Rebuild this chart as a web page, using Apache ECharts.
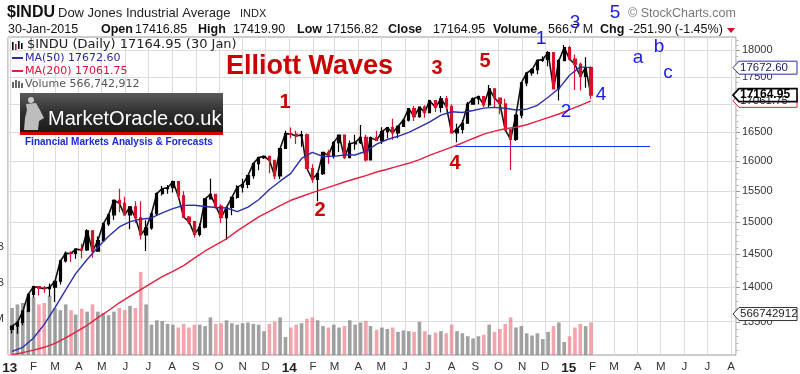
<!DOCTYPE html>
<html><head><meta charset="utf-8">
<script src="https://cdn.jsdelivr.net/npm/echarts@6/dist/echarts.min.js"></script>
<style>html,body{margin:0;padding:0;background:#fff}#c{width:800px;height:374px}</style>
</head><body><div id="c"></div>
<script>
// ---------------- DATA (weekly) ----------------
const weekDates = ['2013-01-04','2013-01-11','2013-01-18','2013-01-25','2013-02-01','2013-02-08','2013-02-15','2013-02-22','2013-03-01','2013-03-08','2013-03-15','2013-03-22','2013-03-28','2013-04-05','2013-04-12','2013-04-19','2013-04-26','2013-05-03','2013-05-10','2013-05-17','2013-05-24','2013-05-31','2013-06-07','2013-06-14','2013-06-21','2013-06-28','2013-07-05','2013-07-12','2013-07-19','2013-07-26','2013-08-02','2013-08-09','2013-08-16','2013-08-23','2013-08-30','2013-09-06','2013-09-13','2013-09-20','2013-09-27','2013-10-04','2013-10-11','2013-10-18','2013-10-25','2013-11-01','2013-11-08','2013-11-15','2013-11-22','2013-11-29','2013-12-06','2013-12-13','2013-12-20','2013-12-27','2014-01-03','2014-01-10','2014-01-17','2014-01-24','2014-01-31','2014-02-07','2014-02-14','2014-02-21','2014-02-28','2014-03-07','2014-03-14','2014-03-21','2014-03-28','2014-04-04','2014-04-11','2014-04-17','2014-04-25','2014-05-02','2014-05-09','2014-05-16','2014-05-23','2014-05-30','2014-06-06','2014-06-13','2014-06-20','2014-06-27','2014-07-03','2014-07-11','2014-07-18','2014-07-25','2014-08-01','2014-08-08','2014-08-15','2014-08-22','2014-08-29','2014-09-05','2014-09-12','2014-09-19','2014-09-26','2014-10-03','2014-10-10','2014-10-17','2014-10-24','2014-10-31','2014-11-07','2014-11-14','2014-11-21','2014-11-28','2014-12-05','2014-12-12','2014-12-19','2014-12-26','2015-01-02','2015-01-09','2015-01-16','2015-01-23','2015-01-30'];
const weekHigh = [13436,13507,13651,13896,14020,14019,14020,14055,14090,14413,14540,14546,14585,14662,14888,14865,14777,14994,15134,15368,15542,15410,15250,15340,15340,15030,15160,15480,15590,15605,15680,15660,15500,15100,15010,14980,15380,15710,15460,15290,15250,15400,15600,15710,15770,15970,16080,16100,16090,16030,16230,16530,16588,16530,16530,16480,15950,15800,16160,16200,16350,16460,16460,16360,16460,16630,16460,16430,16530,16590,16600,16740,16620,16730,16930,16970,16960,16980,17080,17070,17150,17150,17000,16650,16720,17040,17120,17160,17140,17350,17280,17120,17100,16560,16810,17400,17580,17660,17820,17890,17990,17960,17830,18103,18080,17920,17770,17870,17700];
const weekLow = [13330,13328,13448,13636,13850,13880,13920,13863,13784,14040,14375,14380,14430,14434,14550,14444,14540,14700,14940,15040,15160,15115,14891,14990,14730,14551,14880,15100,15430,15460,15480,15390,15070,14970,14760,14777,14900,15370,15220,14990,14719,15110,15380,15480,15550,15710,15850,16040,15800,15700,15700,16220,16400,16300,16250,15870,15640,15340,15770,15960,16050,16160,16040,16060,16200,16300,16000,16015,16350,16300,16400,16370,16400,16600,16690,16700,16760,16760,16840,16860,16850,16900,16490,16330,16480,16650,16990,17000,16950,16940,16940,16820,16540,15855,16350,16750,17330,17520,17550,17780,17700,17270,17070,17800,17810,17260,17250,17300,17100];
const weekClose = [13435,13488,13650,13896,14010,13993,13981,14001,14090,14397,14515,14512,14579,14565,14865,14547,14712,14974,15118,15354,15303,15116,15248,15070,14800,14910,15136,15464,15544,15559,15659,15426,15081,15010,14810,14923,15376,15452,15258,15073,15237,15400,15570,15615,15762,15962,16065,16086,16020,15755,16221,16479,16470,16437,16459,15880,15699,15794,16154,16103,16322,16453,16065,16302,16323,16413,16027,16409,16361,16513,16584,16492,16606,16717,16924,16776,16948,16851,17068,16944,17100,16961,16493,16554,16663,17001,17098,17138,16988,17280,17113,17009,16544,16380,16805,17391,17573,17635,17810,17828,17958,17281,17804,18053,17833,17737,17512,17673,17165];
const priorClose = 13390;   // level where the first visible bar opens
const weekVolumeM = [650,700,720,750,800,700,720,820,650,620,700,620,560,640,600,700,600,580,550,600,650,620,680,650,1150,700,420,480,470,430,420,380,430,380,420,420,400,520,430,440,480,440,420,440,450,430,420,330,430,460,520,250,380,420,440,500,520,480,400,380,420,380,400,480,420,450,470,400,350,380,360,380,320,340,330,320,460,330,280,310,330,300,420,330,300,260,230,260,280,420,320,360,430,520,380,400,300,270,300,220,320,400,450,180,260,380,430,400,450];
// moving averages read every second week (dates = every other weekDates entry)
const ma50 = [13080,13137,13267,13460,13702,13963,14205,14419,14607,14780,14926,15009,15049,15068,15151,15219,15271,15272,15253,15237,15229,15171,15243,15362,15530,15668,15798,16050,16154,16084,16085,16109,16109,16173,16295,16376,16432,16502,16591,16681,16804,16866,16852,16888,16931,16943,16927,16897,16911,16981,17126,17285,17532,17687,17673];
const ma200 = [13036,13062,13098,13137,13191,13269,13349,13447,13556,13660,13772,13870,13967,14063,14160,14240,14326,14439,14550,14646,14739,14863,14974,15086,15174,15266,15354,15416,15478,15537,15595,15654,15708,15761,15821,15868,15919,15968,16031,16102,16174,16245,16316,16394,16469,16523,16563,16590,16634,16697,16761,16825,16902,16981,17062];
const monthLetters = ['J','F','M','A','M','J','J','A','S','O','N','D'];
const priceTicks = [13500,14000,14500,15000,15500,16000,16500,17000,17500,18000];
const priceRange = [13030, 18257];      // log scale, bottom / top of plot
const volumeLabels = {500:'500M', 1000:'1.0B', 1500:'1.5B'};
const lastClose = '17164.95', lastMA50 = '17672.60', lastMA200 = '17061.75', lastVolumeM = 566.742912;
const supportLine = {from:'2014-08-06', to:'2015-04-17', level:16264};

// ---------------- BUILD ----------------
const FONT = '"Liberation Sans", Arial, sans-serif';
const VFONT = '"DejaVu Sans", Verdana, sans-serif';
const chart = echarts.init(document.getElementById('c'), null, {renderer:'canvas'});

const candles = weekDates.map((d,i)=>[d, i===0?priorClose:weekClose[i-1], weekClose[i], weekLow[i], weekHigh[i]]);
const closeLine = weekDates.map((d,i)=>[d, weekClose[i]]);
const volData = weekDates.map((d,i)=>{
  const up = weekClose[i] >= (i===0?priorClose:weekClose[i-1]);
  return {value:[d, weekVolumeM[i]], itemStyle:{color: up ? 'rgba(125,125,125,0.72)' : 'rgba(232,105,118,0.6)'}};
});
const maDates = weekDates.filter((d,i)=>i%2===0);
const ma50Data = maDates.map((d,i)=>[d, ma50[i]]);
const ma200Data = maDates.map((d,i)=>[d, ma200[i]]);

const option = {
  animation:false,
  backgroundColor:'#fff',
  grid:{left:8, right:64, top:37, bottom:19, containLabel:false, outerBoundsMode:'none',
        show:true, borderColor:'#9a9a9a', borderWidth:1, backgroundColor:'transparent'},
  xAxis:{
    type:'time', min:'2013-01-01', max:'2015-08-05',
    minInterval:30*864e5, maxInterval:30*864e5,
    axisLine:{show:false}, axisTick:{show:false},
    splitLine:{show:true, lineStyle:{color:'#dcdcdc', width:1}},
    axisLabel:{
      color:'#333', fontSize:11.5, fontFamily:FONT, margin:6, hideOverlap:false,
      formatter:function(v){ const d=new Date(v); const m=d.getMonth(); return m===0 ? '{yr|'+String(d.getFullYear()).slice(2)+'}' : monthLetters[m]; },
      rich:{yr:{fontWeight:'bold', fontSize:13.5, fontFamily:FONT, color:'#222'}}
    }
  },
  yAxis:[
    {type:'log', logBase:10, position:'right', min:priceRange[0], max:priceRange[1],
     axisLine:{show:false}, axisTick:{show:false}, axisLabel:{show:false},
     splitLine:{show:false}, minorTick:{show:false}, minorSplitLine:{show:false}},
    {type:'value', position:'left', min:0, max:4400, interval:500,
     axisLine:{show:false}, axisTick:{show:false}, splitLine:{show:false},
     axisLabel:{color:'#333', fontSize:11, fontFamily:FONT, margin:4, formatter:v => volumeLabels[v] || ''}}
  ],
  series:[
    {type:'bar', name:'Volume', yAxisIndex:1, data:volData, barWidth:3.6, z:1, silent:true},
    {type:'line', name:'close', yAxisIndex:0, data:closeLine, showSymbol:false, symbol:'none', z:2, silent:true,
     lineStyle:{color:'#111', width:1.6},
     markLine:{z:0, silent:true, symbol:['none','none'], label:{show:false},
       lineStyle:{color:'#dcdcdc', width:1, type:'solid'}, emphasis:{disabled:true},
       data:priceTicks.map(v=>({yAxis:v}))}},
    {type:'candlestick', name:'$INDU', yAxisIndex:0, data:candles, encode:{x:0, y:[1,2,3,4]}, barWidth:2.8, z:3,
     itemStyle:{color:'#000', color0:'#d8102a', borderColor:'#000', borderColor0:'#d8102a', borderWidth:1.2},
     markLine:{silent:true, symbol:['none','none'], label:{show:false}, lineStyle:{color:'#1030ff', width:1, type:'solid'},
       data:[[{coord:[supportLine.from, supportLine.level]},{coord:[supportLine.to, supportLine.level]}]]}},
    {type:'line', name:'MA(50)', yAxisIndex:0, data:ma50Data, showSymbol:false, symbol:'none', z:4,
     lineStyle:{color:'#2a30a8', width:1.4}},
    {type:'line', name:'MA(200)', yAxisIndex:0, data:ma200Data, showSymbol:false, symbol:'none', z:4,
     lineStyle:{color:'#e3203f', width:1.4}}
  ]
};
chart.setOption(option);

// ---------------- TEXT / DECORATION ----------------
function T(text, x, y, font, fill, align){
  return {type:'text', z:100, x:x, y:y, silent:true,
    style:{text:text, font:font, fill:fill||'#111', textAlign:align||'left', textVerticalAlign:'middle', align:align||'left', verticalAlign:'middle'}};
}
const g = [];
// right price axis: labels and ticks placed through the log axis
const yOf = v => chart.convertToPixel({yAxisIndex:0}, v);
for (let v = 13100; v <= 18200; v += 100) {
  const y = Math.round(yOf(v)) + 0.5;
  if (y < 37 || y > 355) continue;
  const major = v % 500 === 0;
  g.push({type:'line', z:90, silent:true, shape:{x1:736, y1:y, x2:major?740:738.5, y2:y}, style:{stroke:major?'#999':'#bbb', lineWidth:1}});
}
priceTicks.forEach(v => g.push(Object.assign(T(String(v), 742, yOf(v), '11px '+FONT, '#333'), {z:90})));

// header line 1
g.push(T('$INDU', 7, 13, 'bold 16px '+FONT, '#111'));
g.push(T('Dow Jones Industrial Average', 58, 13, '13px '+FONT, '#222'));
g.push(T('INDX', 240, 14, '11px '+FONT, '#222'));
g.push(T('\u00A9 StockCharts.com', 628, 14, '12.5px '+FONT, '#777'));
// header line 2
const h2 = [['30-Jan-2015',8,false],['Open',101,true],['17416.85',135,false],['High',198,true],['17419.90',233,false],
  ['Low',297,true],['17156.82',326,false],['Close',388,true],['17164.95',433,false],['Volume',493,true],['566.7 M',548,false],
  ['Chg',600,true],['-251.90 (-1.45%)',629,false]];
h2.forEach(a=>g.push(T(a[0], a[1], 30, (a[2]?'bold ':'')+'12.5px '+FONT, '#111')));
g.push({type:'polygon', z:100, silent:true, shape:{points:[[727,28],[735,28],[731,33]]}, style:{fill:'#c8102a'}});

// in-plot legend
[[12,42,8,'#000'],[15,44,6,'#d8102a'],[18,41,8,'#000'],[21,43,6,'#000']].forEach(r=>
  g.push({type:'rect', z:100, silent:true, shape:{x:r[0], y:r[1], width:1.6, height:r[2]}, style:{fill:r[3]}}));
g.push(T('$INDU (Daily) '+lastClose+' (30 Jan)', 27, 45, '13px '+VFONT, '#222'));
g.push({type:'line', z:100, silent:true, shape:{x1:12,y1:58,x2:23,y2:58}, style:{stroke:'#2a30a8', lineWidth:2}});
g.push(T('MA(50) '+lastMA50, 25, 58, '11px '+VFONT, '#2a2a9a'));
g.push({type:'line', z:100, silent:true, shape:{x1:12,y1:71,x2:23,y2:71}, style:{stroke:'#e3203f', lineWidth:2}});
g.push(T('MA(200) '+lastMA200, 25, 71, '11px '+VFONT, '#e0103a'));
[[12,82,6],[15,80,8],[18,81,7],[21,83,5]].forEach(r=>
  g.push({type:'rect', z:100, silent:true, shape:{x:r[0], y:r[1], width:2, height:r[2]}, style:{fill:'#666'}}));
g.push(T('Volume 566,742,912', 25, 84, '11px '+VFONT, '#555'));

// MarketOracle logo
g.push({type:'rect', z:100, silent:true, shape:{x:20, y:93, width:203, height:40},
  style:{fill:new echarts.graphic.LinearGradient(0,0,0,1,[{offset:0,color:'#5a5a5a'},{offset:0.5,color:'#2e2e2e'},{offset:1,color:'#1a1a1a'}])}});
g.push({type:'rect', z:101, silent:true, shape:{x:20, y:132, width:203, height:3}, style:{fill:'#d40000'}});
g.push({type:'circle', z:101, silent:true, shape:{cx:31, cy:100, r:3}, style:{fill:'#c8c8c8'}});
g.push({type:'polygon', z:101, silent:true, shape:{points:[[26,104],[36,103],[41,112],[44,118],[39,121],[38,130],[24,130],[25,118],[27,110]]}, style:{fill:'#bdbdbd'}});
g.push(T('MarketOracle.co.uk', 48, 119, '20px '+FONT, '#ffffff'));
g.push(T('Financial Markets Analysis & Forecasts', 25, 142, 'bold 10px '+FONT, '#1a2ad8'));

// Elliott wave annotations
g.push(T('Elliott Waves', 226, 67, 'bold 27px '+FONT, '#cc0000'));
[['1',285,102],['2',320,210],['3',437,68],['4',455,163],['5',485,61]].forEach(a=>g.push(T(a[0], a[1], a[2], 'bold 20px '+FONT, '#cc0000', 'center')));
[['1',541,39],['2',566,112],['3',575,23],['4',601,95],['5',615,13],['a',638,58],['b',659,47],['c',668,73]].forEach(a=>g.push(T(a[0], a[1], a[2], '19px '+FONT, '#1a1ae6', 'center')));

// right-axis value tags
function tag(y, text, stroke, color, font, lw){
  g.push({type:'polygon', z:110, silent:true, shape:{points:[[733,y],[739,y-6.5],[797,y-6.5],[797,y+6.5],[739,y+6.5]]}, style:{fill:'#fff', stroke:stroke, lineWidth:lw||1}});
  g.push(Object.assign(T(text, 740, y, font, color), {z:111}));
}
const yVol = chart.convertToPixel({yAxisIndex:1}, lastVolumeM*1);
tag(yOf(parseFloat(lastMA200)), lastMA200, '#e0203a', '#222', '11.5px '+FONT);
tag(yOf(parseFloat(lastMA50)), lastMA50, '#2a30a8', '#1a1a60', '11.5px '+FONT);
tag(yOf(parseFloat(lastClose)), lastClose, '#000', '#000', 'bold 12px '+FONT, 1.6);
tag(yVol, '566742912', '#333', '#222', '11.5px '+FONT);

chart.setOption({graphic:{elements:g}});
</script></body></html>
